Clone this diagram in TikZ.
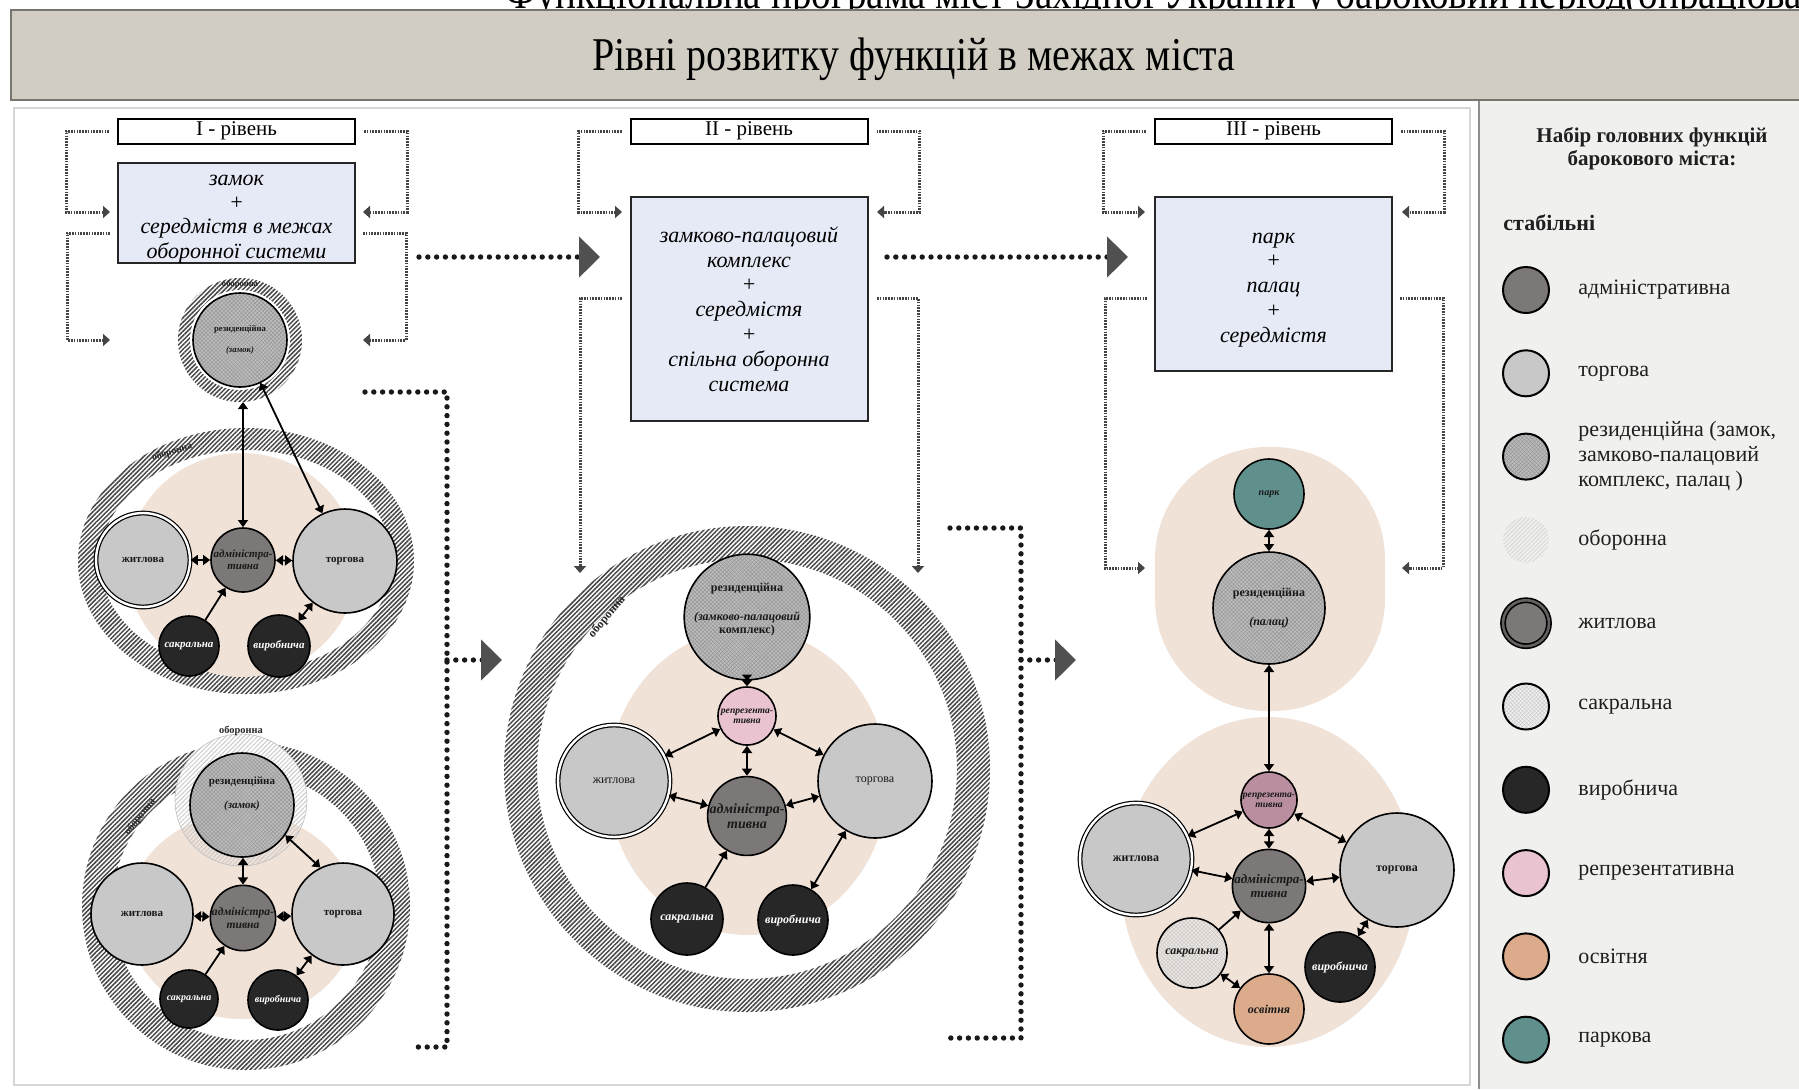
\documentclass[tikz,border=0pt]{standalone}
\usepackage{fontspec}
\setmainfont{Liberation Serif}
\usepackage{graphicx}
\usetikzlibrary{arrows.meta,patterns.meta}

\definecolor{bandgray}{HTML}{D1CDC3}
\definecolor{bandline}{HTML}{77756D}
\definecolor{panelline}{HTML}{D6D6D6}
\definecolor{legbg}{HTML}{F0F0EE}
\definecolor{legline}{HTML}{8C8C8C}
\definecolor{boxblue}{HTML}{E6EAF6}
\definecolor{peach}{HTML}{F1E2D8}
\definecolor{admgray}{HTML}{7C7877}
\definecolor{trggray}{HTML}{C8C8C8}
\definecolor{resgray}{HTML}{BEBEBE}
\definecolor{vyrblack}{HTML}{272727}
\definecolor{reppink}{HTML}{E9C3D0}
\definecolor{repmauve}{HTML}{B98E9F}
\definecolor{osvtan}{HTML}{DBAB8B}
\definecolor{parkteal}{HTML}{60908C}
\definecolor{sakpale}{HTML}{F0E8E3}
\definecolor{hatchgray}{HTML}{474747}
\definecolor{dotgray}{HTML}{454545}
\definecolor{tipgray}{HTML}{505050}

\newcommand{\lvsize}{\fontsize{5.5}{6}\selectfont}
\newcommand{\reslab}{резиденційна (замок,\\замково-палацовий\\комплекс, палац )}

\tikzset{
  fn/.style={circle, draw=black, line width=0.8pt, inner sep=0pt, align=center, text=black!90},
  adm/.style={fn, fill=admgray, font=\lvsize\bfseries\itshape},
  trg/.style={fn, fill=trggray, font=\lvsize\bfseries},
  zht/.style={trg, double=white, double distance=1.2pt, line width=0.6pt},
  res/.style={fn, preaction={fill=resgray}, pattern={Hatch[angle=45,distance=1.4pt,line width=0.3pt]}, pattern color=black!40, font=\lvsize\bfseries},
  vyr/.style={fn, fill=vyrblack, text=white, font=\lvsize\bfseries\itshape},
  rep/.style={fn, fill=reppink, font=\fontsize{4.8}{5.2}\selectfont\bfseries\itshape},
  osv/.style={fn, fill=osvtan, font=\lvsize\bfseries\itshape},
  park/.style={fn, fill=parkteal, font=\fontsize{5}{5.5}\selectfont\bfseries\itshape},
  sakpl/.style={fn, preaction={fill=sakpale}, pattern={Hatch[angle=45,distance=1.4pt,line width=0.25pt]}, pattern color=black!22, font=\lvsize\bfseries\itshape},
  defhatch/.style={pattern={Lines[angle=45,distance=1.6pt,line width=0.75pt]}, pattern color=hatchgray},
  faint/.style={pattern={Lines[angle=45,distance=1.6pt,line width=0.5pt]}, pattern color=black!20},
  deflab/.style={inner sep=0pt, text=black!85, font=\fontsize{5}{5.5}\selectfont\bfseries},
  lvlabel/.style={draw=black, line width=1pt, fill=white, minimum width=118.5pt, minimum height=12.5pt, inner sep=0pt, font=\fontsize{10.5}{11}\selectfont},
  lvbox/.style={draw=black!85, line width=1pt, fill=boxblue, minimum width=118.5pt, inner sep=0pt, align=center, font=\itshape\fontsize{11}{12.4}\selectfont},
  bi/.style={line width=0.9pt, {Triangle[length=3.6pt,width=5pt]}-{Triangle[length=3.6pt,width=5pt]}},
  one/.style={line width=0.9pt, -{Triangle[length=3.8pt,width=5pt]}},
  bracket/.style={draw=dotgray, line width=1.5pt, dash pattern=on 0.8pt off 0.6pt, -{Triangle[length=3.5pt,width=6pt]}},
  bigdots/.style={draw=black!90, line width=2.7pt, line cap=round, dash pattern=on 0pt off 4.4pt},
  bigtip/.style={bigdots, -{Triangle[length=10.5pt,width=20pt,color=tipgray]}},
  leglab/.style={anchor=west, align=left, inner sep=0pt, text=black!88, font=\fontsize{11}{12.5}\selectfont},
  lgadm/.style={fn, fill=admgray, line width=1pt},
  lgtrg/.style={fn, fill=trggray, line width=1pt},
  lgres/.style={res, line width=1pt},
  lgdef/.style={circle, inner sep=0pt, pattern={Lines[angle=45,distance=1.5pt,line width=0.5pt]}, pattern color=black!15},
  lgzht/.style={fn, fill=admgray, double=admgray!80!black, double distance=1.3pt, line width=0.8pt},
  lgsak/.style={fn, line width=1pt, preaction={fill=black!6}, pattern={Hatch[angle=45,distance=1.4pt,line width=0.25pt]}, pattern color=black!20},
  lgvyr/.style={fn, fill=vyrblack, line width=1pt},
  lgrep/.style={fn, fill=reppink, line width=1pt},
  lgosv/.style={fn, fill=osvtan, line width=1pt},
  lgpark/.style={fn, fill=parkteal, line width=1pt}
}

\begin{document}
\begin{tikzpicture}[x=0.5pt,y=-0.5pt]
  \useasboundingbox (0,0) rectangle (1799,1089);
  \fill[white] (0,0) rectangle (1799,1089);
  % caption line, cut by the page edge
  \node[anchor=base west, inner sep=0pt, font=\fontsize{23}{23}\selectfont] (cap) at (505,8)
    {\scalebox{0.85}[1]{Функціональна програма міст Західної України у бароковий період(опрацювання}};
  % title band
  \fill[bandgray] (11,10) rectangle (1799,100);
  \draw[bandline, line width=1pt] (1799,10) -- (11,10) -- (11,100) -- (1799,100);
  \node[font=\fontsize{23.5}{24}\selectfont] (title) at (914,59)
    {\scalebox{0.85}[1]{Рівні розвитку функцій в межах міста}};
  % panels
  \draw[panelline, line width=0.8pt] (14,108) rectangle (1470,1085);
  \fill[legbg] (1479,101) rectangle (1799,1089);
  \draw[legline, line width=1pt] (1479,101) -- (1479,1089);

  % level labels and programme boxes
  \foreach \lv/\cx in {I/236.5, II/749, III/1273.5}
    \node[lvlabel] (lvl\lv) at (\cx,131) {\lv{} - рівень};
  \node[lvbox, minimum height=50pt, font=\itshape\fontsize{11}{12.2}\selectfont] (boxI) at (236.5,213)
    {\rule{0pt}{11pt}замок\\+\\середмістя в межах\\оборонної системи};
  \node[lvbox, minimum height=112pt] (boxII) at (749,309)
    {замково-палацовий\\комплекс\\+\\середмістя\\+\\спільна оборонна\\система};
  \node[lvbox, minimum height=87pt] (boxIII) at (1273.5,284)
    {\rule{0pt}{11pt}парк\\+\\палац\\+\\середмістя};

  % small dotted brackets
  \foreach \lv/\tl/\tr in {I/110/363, II/622/877, III/1145/1402}{
    \coordinate (bl\lv) at (\tl,212);
    \coordinate (br\lv) at (\tr,212);
    \draw[bracket] ([xshift=-4pt]lvl\lv.west) -- ++(-43,0) |- (bl\lv);
    \draw[bracket] ([xshift=4pt]lvl\lv.east) -- ++(43,0) |- (br\lv);
  }
  \coordinate (sIl) at (110,233);  \coordinate (tIl) at (110,340);
  \coordinate (sIr) at (363,233);  \coordinate (tIr) at (363,340);
  \coordinate (sIIl) at (622,298); \coordinate (tIIl) at (580,573);
  \coordinate (sIIr) at (877,298); \coordinate (tIIr) at (918,573);
  \coordinate (sIIIl) at (1147,298); \coordinate (tIIIl) at (1145,568);
  \coordinate (sIIIr) at (1400,298); \coordinate (tIIIr) at (1402,568);
  \draw[bracket] (sIl) -- ++(-43,0) |- (tIl);
  \draw[bracket] (sIr) -- ++(43,0) |- (tIr);
  \draw[bracket] (sIIl) -| (tIIl);
  \draw[bracket] (sIIr) -| (tIIr);
  \draw[bracket] (sIIIl) -- ++(-42,0) |- (tIIIl);
  \draw[bracket] (sIIIr) -- ++(43,0) |- (tIIIr);

  % big dotted transitions
  \coordinate (dA1) at (419,257);  \coordinate (dA2) at (600,257);
  \coordinate (dB1) at (887,257);  \coordinate (dB2) at (1128,257);
  \draw[bigtip] (dA1) -- (dA2);
  \draw[bigtip] (dB1) -- (dB2);
  \coordinate (kA1) at (365,392);  \coordinate (kA2) at (410,1047);
  \coordinate (kA3) at (447,660);  \coordinate (kA4) at (502,660);
  \coordinate (kB1) at (950,528);  \coordinate (kB2) at (950,1038);
  \coordinate (kB3) at (1021,660); \coordinate (kB4) at (1076,660);
  \draw[bigdots] (kA1) -| (kA3) |- (kA2);
  \draw[bigtip] (kA3) -- (kA4);
  \draw[bigdots] (kB1) -| (kB3) |- (kB2);
  \draw[bigtip] (kB3) -- (kB4);

  % ---- level I, upper scheme
  \fill[defhatch, even odd rule] (246,561) ellipse (168 and 133) (246,561) ellipse (146 and 111);
  \fill[peach] (242,565) ellipse (115 and 112);
  \node[deflab, rotate=18] (dlA) at (172,452) {оборонна};
  \fill[defhatch] (240,340) circle (62);
  \fill[white] (240,340) circle (50);
  \node[deflab, font=\fontsize{4.3}{4.5}\selectfont\bfseries] (dlA2) at (240,284) {оборонна};
  \coordinate (defA) at (240,402);
  \node[res, minimum size=47pt, font=\fontsize{4.3}{4.6}\selectfont\bfseries] (resA) at (240,340) {резиденційна\\[6pt]\itshape(замок)};
  \node[zht, minimum size=47pt] (zhtA) at (143,560) {житлова};
  \node[adm, minimum size=32pt] (admA) at (243,560) {адміністра-\\тивна};
  \node[trg, minimum size=52pt] (trgA) at (345,561) {торгова};
  \node[vyr, minimum size=30pt] (sakA) at (189,646) {сакральна};
  \node[vyr, minimum size=31pt] (vyrA) at (279,646) {виробнича};
  \draw[bi] (admA.north) -- (admA.north |- defA);
  \draw[bi] (trgA) -- (resA);
  \draw[bi] (zhtA) -- (admA);
  \draw[bi] (admA) -- (trgA);
  \draw[one] (sakA) -- (admA);
  \draw[bi] (vyrA) -- (trgA);

  % ---- level I, lower scheme
  \fill[defhatch, even odd rule] (246,906) circle (164) (246,906) circle (134);
  \fill[white] (241,800) circle (66);
  \fill[peach] (242,916) ellipse (115 and 103);
  \fill[faint] (241,800) circle (66);
  \draw[black!25, line width=0.3pt] (241,800) circle (66);
  \node[deflab, rotate=52, font=\fontsize{5.2}{5.5}\selectfont\bfseries] (dlB) at (140,817) {оборонна};
  \node[deflab, font=\fontsize{5.2}{5.5}\selectfont\bfseries] (dlB2) at (241,731) {оборонна};
  \node[res, minimum size=52pt] (resB) at (242,805) {резиденційна\\[6pt]\itshape(замок)\\[6pt]\mbox{}};
  \node[trg, minimum size=51pt] (zhtB) at (142,914) {житлова};
  \node[adm, minimum size=31pt, font=\fontsize{5.8}{6.2}\selectfont\bfseries\itshape] (admB) at (243,918) {адміністра-\\тивна};
  \node[trg, minimum size=51pt] (trgB) at (343,914) {торгова};
  \node[vyr, minimum size=29pt, font=\fontsize{5}{5.5}\selectfont\bfseries\itshape] (sakB) at (189,999) {сакральна};
  \node[vyr, minimum size=30pt, font=\fontsize{5}{5.5}\selectfont\bfseries\itshape] (vyrB) at (278,1000) {виробнича};
  \draw[bi] (admB.north) -- (admB.north |- resB.south);
  \draw[bi] (trgB.116) -- (resB.-35);
  \draw[bi] (zhtB) -- (admB);
  \draw[bi] (admB) -- (trgB);
  \draw[one] (sakB) -- (admB);
  \draw[bi] (vyrB) -- (trgB);

  % ---- level II
  \renewcommand{\lvsize}{\fontsize{6}{6.5}\selectfont}
  \fill[defhatch, even odd rule] (747,769) circle (243) (747,769) circle (210);
  \fill[peach] (748,782) ellipse (140 and 153);
  \node[deflab, rotate=50, font=\fontsize{6}{6.5}\selectfont\bfseries] (dlC) at (607,617) {оборонна};
  \node[res, minimum size=52pt] (resC) at (747,617) {резиденційна\\[8pt]\itshape(замково-палацовий\\комплекс)\\[2pt]\mbox{}};
  \node[rep, minimum size=29pt] (repC) at (747,716) {репрезента-\\тивна};
  \node[zht, minimum size=56pt, font=\lvsize] (zhtC) at (614,781) {житлова};
  \node[adm, minimum size=36pt, font=\fontsize{7}{7.5}\selectfont\bfseries\itshape] (admC) at (747,816) {адміністра-\\тивна};
  \node[trg, minimum size=57pt, font=\lvsize] (trgC) at (875,781) {торгова};
  \node[vyr, minimum size=36pt] (sakC) at (687,919) {сакральна};
  \node[vyr, minimum size=35pt] (vyrC) at (793,920) {виробнича};
  \draw[line width=0.9pt, {Triangle[length=3pt,width=5pt]}-{Triangle[length=3pt,width=5pt]}] (resC) -- (repC);
  \draw[bi] (repC) -- (zhtC);
  \draw[bi] (repC) -- (trgC);
  \draw[bi] (repC) -- (admC);
  \draw[bi] (zhtC) -- (admC);
  \draw[bi] (trgC) -- (admC);
  \draw[one] (sakC) -- (admC);
  \draw[bi] (trgC) -- (vyrC);

  % ---- level III
  \fill[peach, rounded corners=56pt] (1155,447) rectangle (1385,711);
  \fill[peach] (1268,882) ellipse (147 and 165);
  \node[park, minimum size=35pt] (parkD) at (1269,494) {парк};
  \node[res, minimum size=56pt] (resD) at (1269,608) {резиденційна\\[8pt]\itshape(палац)};
  \node[rep, fill=repmauve, minimum size=28pt] (repD) at (1269,800) {репрезента-\\тивна};
  \node[zht, minimum size=56pt] (zhtD) at (1136,859) {житлова};
  \node[adm, minimum size=36pt, font=\fontsize{6.5}{7}\selectfont\bfseries\itshape] (admD) at (1269,886) {адміністра-\\тивна};
  \node[trg, minimum size=57pt] (trgD) at (1397,870) {торгова};
  \node[sakpl, minimum size=35pt] (sakD) at (1192,953) {сакральна};
  \node[osv, minimum size=35pt] (osvD) at (1269,1009) {освітня};
  \node[vyr, minimum size=35pt] (vyrD) at (1340,967) {виробнича};
  \draw[bi] (parkD) -- (resD);
  \draw[bi] (resD) -- (repD);
  \draw[bi] (repD) -- (zhtD);
  \draw[bi] (repD) -- (trgD);
  \draw[bi] (repD) -- (admD);
  \draw[bi] (zhtD) -- (admD);
  \draw[bi] (trgD) -- (admD);
  \draw[one] (sakD) -- (admD);
  \draw[bi] (admD) -- (osvD);
  \draw[bi] (sakD) -- (osvD);
  \draw[bi] (trgD) -- (vyrD);

  % ---- legend
  \node[align=center, inner sep=0pt, text=black!88, font=\fontsize{10.5}{11.5}\selectfont\bfseries] (legT) at (1652,149)
    {Набір головних функцій\\барокового міста:};
  \node[anchor=west, inner sep=0pt, text=black!88, font=\fontsize{11}{12}\selectfont\bfseries] (legS) at (1503,223) {стабільні};
  \foreach \st/\lab [count=\i from 0] in {lgadm/адміністративна, lgtrg/торгова, lgres/\reslab, lgdef/оборонна,
      lgzht/житлова, lgsak/сакральна, lgvyr/виробнича, lgrep/репрезентативна, lgosv/освітня, lgpark/паркова}{
    \node[\st, minimum size=23pt] (lc\i) at (1526,{290+83.3*\i}) {};
    \node[leglab] (ll\i) at (1578,{290+83.3*\i}) {\lab};
  }
\end{tikzpicture}
\end{document}
